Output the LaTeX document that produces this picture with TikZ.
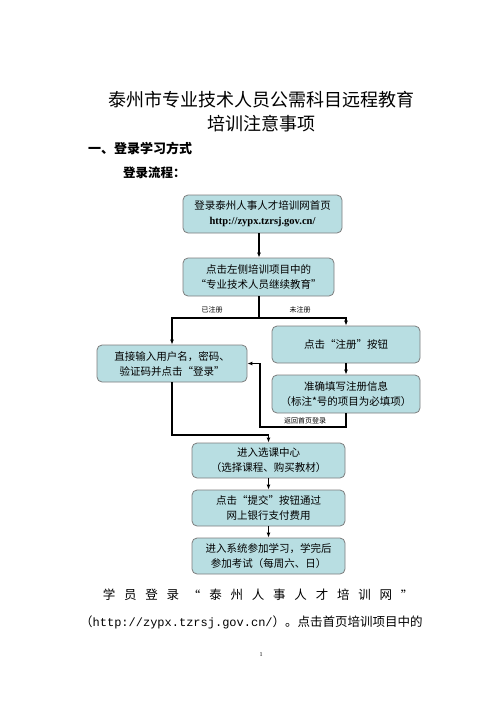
\documentclass[tikz,border=0pt]{standalone}
\usepackage{fontspec}
\setmainfont{Liberation Serif}
\setmonofont{Liberation Mono}
\newfontfamily\cjk{Noto Sans CJK SC}
\usetikzlibrary{arrows.meta,positioning}
\definecolor{boxfill}{RGB}{184,222,226}
\definecolor{boxline}{RGB}{125,125,125}
\tikzset{
  stepbox/.style={rectangle, rounded corners=5pt, draw=boxline, thick, fill=boxfill,
                  minimum width=150pt, minimum height=36pt, inner sep=0pt, align=center,
                  font=\cjk\fontsize{10.5}{15}\selectfont},
  ar/.style={-{Latex[length=5pt,width=4pt]}, line width=1.1pt},
  ln/.style={line width=1.1pt},
  lbl/.style={font=\cjk\fontsize{7}{8}\selectfont},
  body/.style={font=\cjk\fontsize{12.5}{14}\selectfont, inner sep=0pt},
}
\begin{document}
\begin{tikzpicture}[x=1pt, y=-1pt]
\useasboundingbox (0,0) rectangle (496,702);
% heading of the page
\node[font=\cjk\fontsize{18}{24}\selectfont, inner sep=0pt] (title1) at (261,100) {泰州市专业技术人员公需科目远程教育};
\node[font=\cjk\fontsize{18}{24}\selectfont, inner sep=0pt] (title2) at (261,124) {培训注意事项};
\node[font=\cjk\bfseries\fontsize{13}{15}\selectfont, inner sep=0pt, anchor=west] (sec) at (88,148) {一、登录学习方式};
\node[font=\cjk\bfseries\fontsize{12.5}{15}\selectfont, inner sep=0pt, anchor=west] (sub) at (123,173) {登录流程：};
% flow chart
\node[stepbox, minimum width=159pt, minimum height=38pt] (home) at (262.5,214) {登录泰州人事人才培训网首页\\{\rmfamily\bfseries http://zypx.tzrsj.gov.cn/}};
\node[stepbox, minimum width=151pt, minimum height=38pt] (proj) at (258.5,277) {点击左侧培训项目中的\\“专业技术人员继续教育”};
\node[stepbox, minimum height=37pt] (login) at (172,363.5) {直接输入用户名，密码、\\验证码并点击“登录”};
\node[stepbox, minimum width=148pt, minimum height=37pt] (reg) at (346,344.5) {点击“注册”按钮};
\node[stepbox, minimum width=148pt, minimum height=38pt] (info) at (346,394) {准确填写注册信息\\（标注*号的项目为必填项）};
\node[stepbox, minimum width=153pt, minimum height=35pt] (center) at (268.5,460.5) {进入选课中心\\（选择课程、购买教材）};
\node[stepbox, minimum width=153pt] (pay) at (268.5,508) {点击“提交”按钮通过\\网上银行支付费用};
\node[stepbox, minimum width=153pt] (study) at (268.5,556) {进入系统参加学习，学完后\\参加考试（每周六、日）};
\coordinate (split) at (259,318);
\coordinate (back1) at (346,427);
\coordinate (back2) at (260,427);
\coordinate (join) at (172,435);
\draw[ar] (home.south -| split) -- (proj.north -| split);
\draw[ln] (proj.south -| split) -- (split);
\draw[ar] (split) -| (login);
\draw[ar] (split) -| (reg);
\draw[ar] (reg) -- (info);
\draw[ar] (info) -- (back1) -- (back2) |- (login);
\draw[ar] (login) -- (join) -| (center);
\draw[ar] (center) -- (pay);
\draw[ar] (pay) -- (study);
\node[lbl] (yes) at (212,310) {已注册};
\node[lbl] (no) at (300,310) {未注册};
\node[lbl] (ret) at (305,421) {返回首页登录};
% text under the chart
\foreach \c [count=\i] in {学,员,登,录,“,泰,州,人,事,人,才,培,训,网,”}
  \node[body] (w\i) at ({109+(\i-1)*21.3},595) {\c};
\node[body, anchor=west] (url) at (80,622) {（{\ttfamily\fontsize{12}{14}\selectfont http://zypx.tzrsj.gov.cn/}）。点击首页培训项目中的};
\node[font=\fontsize{6}{7}\selectfont] (page) at (261,655) {1};
\end{tikzpicture}
\end{document}
